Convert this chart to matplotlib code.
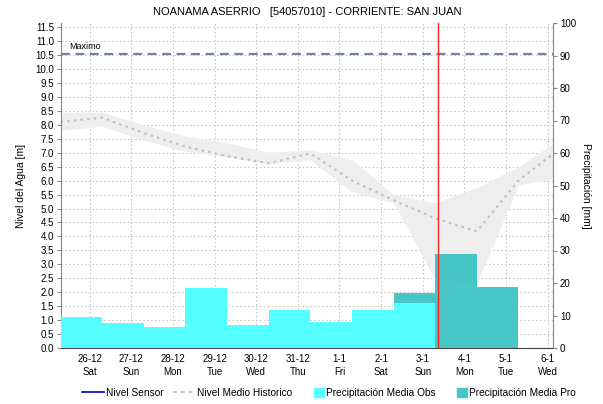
import numpy as np
import matplotlib
matplotlib.use('Agg')
import matplotlib.pyplot as plt
from matplotlib.lines import Line2D
from matplotlib.patches import Patch, Rectangle
from matplotlib.legend_handler import HandlerPatch

plt.rcParams['font.family'] = ['Liberation Sans', 'DejaVu Sans']

# day labels (26-12-2020 ... 6-1-2021), index 0 = 26-12
day_labels = ['26-12\nSat', '27-12\nSun', '28-12\nMon', '29-12\nTue', '30-12\nWed', '31-12\nThu',
              '1-1\nFri', '2-1\nSat', '3-1\nSun', '4-1\nMon', '5-1\nTue', '6-1\nWed']

# daily values are stamped at 07:00 (0.3 day)
hour_offset = 0.3

# precipitation observed [mm], days -1 (25-12) .. 8 (3-1)
obs_days = [-1, 0, 1, 2, 3, 4, 5, 6, 7, 8]
obs_mm = [20.0, 9.4, 7.8, 6.6, 18.4, 7.2, 11.7, 8.0, 11.6, 13.9]

# precipitation forecast [mm]
pro_days = [8, 9, 10]
pro_mm = [17.0, 28.9, 18.9]

# historic mean level [m] and its band
hist_days = [-1, 0, 1, 2, 3, 4, 5, 6, 7, 8, 9, 10, 11]
hist_mean = [8.10, 8.26, 7.70, 7.22, 6.88, 6.62, 6.98, 6.00, 5.30, 4.65, 4.18, 6.00, 7.15]
hist_upper = [8.45, 8.45, 8.00, 7.60, 7.35, 7.02, 7.10, 6.75, 5.50, 5.20, 5.75, 6.50, 7.50]
hist_lower = [7.80, 7.95, 7.45, 7.05, 6.85, 6.60, 6.75, 5.60, 5.20, 2.45, 2.30, 5.85, 6.10]

nivel_maximo = 10.55
now_day = 8.37

fig = plt.figure(figsize=(6.03, 4.04), dpi=100)
ax = fig.add_axes([61/603, 1-348/404, (553-61)/603, (348-23)/404])
ax2 = ax.twinx()

hx = np.array(hist_days) + hour_offset
ax.fill_between(hx, hist_lower, hist_upper, color='#EEEEEE', lw=0, zorder=1)
ax.plot(hx, hist_mean, color='#C0C0C0', lw=1.5, ls=(0, (1.2, 2.0)), zorder=2)
ax.axhline(nivel_maximo, color='#7080A8', lw=1.6, ls=(0, (4, 2.5)), zorder=3)
ax.text(-0.5, nivel_maximo + 0.08, 'Maximo', fontsize=6.5, va='bottom', ha='left')

ax.set_xlim(-0.69, 11.13)
ax.set_ylim(0, 11.65)
ax.set_yticks(np.arange(0, 11.51, 0.5))
ax.set_yticklabels(['%.1f' % v for v in np.arange(0, 11.51, 0.5)])
ax.set_xticks(range(len(day_labels)))
ax.set_xticklabels(day_labels, linespacing=1.4)
ax.grid(True, color='#C8C8C8', ls=(0, (1.5, 2)), lw=0.8)
ax.set_axisbelow(True)
ax.tick_params(axis='y', labelsize=7, length=3, color='#888888', pad=2)
ax.tick_params(axis='x', labelsize=7, length=0, pad=4)
ax.set_ylabel('Nivel del Agua [m]', fontsize=7.5, labelpad=7)
ax.set_title('NOANAMA ASERRIO   [54057010] - CORRIENTE: SAN JUAN', fontsize=8, pad=6)

ax.spines['top'].set_visible(False)
ax.spines['left'].set_color('#888888')
ax.spines['right'].set_visible(False)
ax.spines['bottom'].set_linestyle((0, (1, 1)))
ax.spines['bottom'].set_color('#444444')

# bars cover 24h ending at 07:00
ax2.bar(np.array(pro_days) + hour_offset - 1, pro_mm, width=1.0, align='edge',
        color='#38C0C0', alpha=0.92, lw=0, zorder=2)
ax2.bar(np.array(obs_days) + hour_offset - 1, obs_mm, width=1.0, align='edge',
        color='#55FFFF', lw=0, zorder=3)
ax2.axvline(now_day, color='#FF2020', lw=1.0, zorder=5)
ax2.set_ylim(0, 100)
ax2.set_yticks(range(0, 101, 10))
ax2.tick_params(axis='y', labelsize=7, length=3, color='#888888', pad=2)
ax2.set_ylabel('Precipitación [mm]', fontsize=7.5, rotation=270, labelpad=11)
ax2.spines['top'].set_visible(False)
ax2.spines['bottom'].set_visible(False)
ax2.spines['left'].set_visible(False)
ax2.spines['right'].set_color('#888888')


def narrow_box(legend, orig_handle, xdescent, ydescent, width, height, fontsize):
    return Rectangle((width - 0.42 * width - xdescent, -ydescent - 0.15 * height),
                     0.42 * width, 1.3 * height)


handles = [Line2D([], [], color='#0000CC', lw=1.2),
           Line2D([], [], color='#C8C8C8', lw=1.4, ls=(0, (2, 2))),
           Patch(color='#55FFFF'),
           Patch(color='#47C6C6')]
names = ['Nivel Sensor', 'Nivel Medio Historico', 'Precipitación Media Obs', 'Precipitación Media Pro']
fig.legend(handles, names, loc='center', bbox_to_anchor=(0.545, 1-393/404), ncol=4, frameon=False,
           fontsize=7.3, handlelength=2.2, handletextpad=0.2, columnspacing=0.9,
           handler_map={Patch: HandlerPatch(patch_func=narrow_box)})

fig.savefig('out.png', dpi=100)
